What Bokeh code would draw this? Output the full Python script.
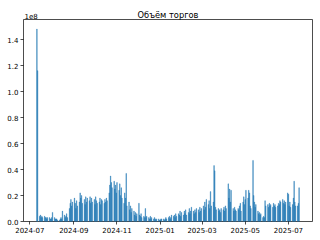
import numpy as np
import pandas as pd
from bokeh.plotting import figure
from bokeh.models import Range1d, FixedTicker, DatetimeTickFormatter, CustomJSTickFormatter, Label
from bokeh.embed import file_html
from bokeh.resources import INLINE

title_text = "Объём торгов"
first_day = "2024-07-11"
last_day = "2025-07-16"

# daily trading volume, millions (one row per trading week)
volume_mln = [
    148, 116,
    4, 5, 3, 4, 3,
    4, 3, 3, 2, 3,
    3, 2, 2, 3, 7,
    3, 2, 2, 2, 1,
    1, 2, 3, 2, 8,
    5, 3, 4, 6, 3,
    10, 14, 17, 12, 15,
    18, 14, 10, 16, 12,
    15, 22, 18, 20, 14,
    17, 13, 19, 15, 18,
    16, 19, 14, 18, 15,
    17, 13, 19, 16, 14,
    15, 18, 13, 17, 16,
    14, 17, 15, 18, 16,
    22, 28, 35, 30, 26,
    31, 25, 28, 22, 30,
    24, 29, 20, 26, 18,
    14, 22, 18, 37, 12,
    15, 9, 12, 7, 10,
    8, 5, 7, 4, 6,
    14, 5, 4, 6, 3,
    4, 3, 10, 3, 4,
    3, 2, 4, 2, 3,
    2, 3, 2, 1, 2,
    2, 1, 1, 2, 2,
    2, 1, 2, 3, 2,
    3, 4, 2, 3, 5,
    4, 5, 3, 6, 4,
    6, 5, 8, 4, 7,
    5, 8, 6, 9, 5,
    7, 10, 6, 8, 11,
    8, 6, 9, 7, 10,
    9, 7, 11, 8, 10,
    12, 9, 15, 11, 17,
    13, 16, 10, 23, 12,
    15, 43, 39, 11, 9,
    10, 8, 9, 7, 10,
    9, 11, 8, 12, 10,
    29, 18, 25, 15, 24,
    10, 8, 11, 9, 8,
    10, 9, 12, 14, 8,
    15, 19, 13, 17, 24,
    18, 24, 22, 12, 10,
    47, 20, 15, 11, 13,
    8, 6, 7, 5, 6,
    3, 4, 3, 16, 12,
    13, 11, 14, 12, 13,
    11, 14, 12, 13, 11,
    12, 14, 13, 16, 15,
    17, 14, 16, 13, 15,
    22, 21, 12, 15, 11,
    13, 18, 31, 15, 12,
    12, 14, 26,
]

x_tick_dates = ["2024-07-01", "2024-09-01", "2024-11-01", "2025-01-01",
                "2025-03-01", "2025-05-01", "2025-07-01"]
y_tick_values = [0.0, 0.2e8, 0.4e8, 0.6e8, 0.8e8, 1.0e8, 1.2e8, 1.4e8]
offset_text = "1e8"

dates = pd.bdate_range(first_day, last_day)
assert len(dates) == len(volume_mln), (len(dates), len(volume_mln))
vol = np.array(volume_mln, dtype=float) * 1e6

DAY = 86400000.0
def ms(ts):
    return pd.Timestamp(ts).value / 1e6

x0 = ms(dates[0]) - 0.4 * DAY
x1 = ms(dates[-1]) + 0.4 * DAY
pad = (x1 - x0) * 0.05
ymax = vol.max() * 1.05

p = figure(width=320, height=240, output_backend="svg", toolbar_location=None,
           x_axis_type="datetime",
           x_range=Range1d(x0 - pad, x1 + pad), y_range=Range1d(0, ymax),
           min_border_left=23, min_border_right=8, min_border_top=19, min_border_bottom=19)

p.vbar(x=dates, top=vol, width=0.8 * DAY, bottom=0, fill_color="#1f77b4",
       line_color="#1f77b4", line_width=0.35)

p.title = None

p.xgrid.visible = False
p.ygrid.visible = False
p.outline_line_color = "black"
p.outline_line_width = 0.7

p.xaxis.ticker = FixedTicker(ticks=[ms(d) for d in x_tick_dates])
fmt = "%Y-%m"
p.xaxis.formatter = DatetimeTickFormatter(milliseconds=fmt, seconds=fmt, minsec=fmt, minutes=fmt,
                                          hourmin=fmt, hours=fmt, days=fmt, months=fmt, years=fmt)
p.yaxis.ticker = FixedTicker(ticks=y_tick_values)
p.yaxis.formatter = CustomJSTickFormatter(code="return (tick/1e8).toFixed(1);")

for ax in (p.xaxis, p.yaxis):
    ax.axis_line_color = None
    ax.major_tick_in = 0
    ax.major_tick_out = 3
    ax.major_tick_line_color = "black"
    ax.major_tick_line_width = 0.7
    ax.minor_tick_line_color = None
    ax.major_label_text_font = "DejaVu Sans"
    ax.major_label_text_font_size = "7px"
    ax.major_label_text_color = "black"
    ax.major_label_standoff = 2

# offset text ("1e8") sits just above the top-left corner of the frame
p.add_layout(Label(x=1, y=1, x_units="screen", y_units="screen", text=offset_text,
                   text_font="DejaVu Sans", text_font_size="7px", text_baseline="bottom",
                   text_line_height=0.5, text_color="black"), "above")
# centred title
p.add_layout(Label(x=144.5, y=0, x_units="screen", y_units="screen", text=title_text,
                   text_font="DejaVu Sans", text_font_size="8.3px", text_align="center",
                   text_baseline="bottom", text_line_height=0.5, y_offset=-6,
                   text_color="black"), "above")

open("out.html", "w").write(file_html(p, INLINE))
